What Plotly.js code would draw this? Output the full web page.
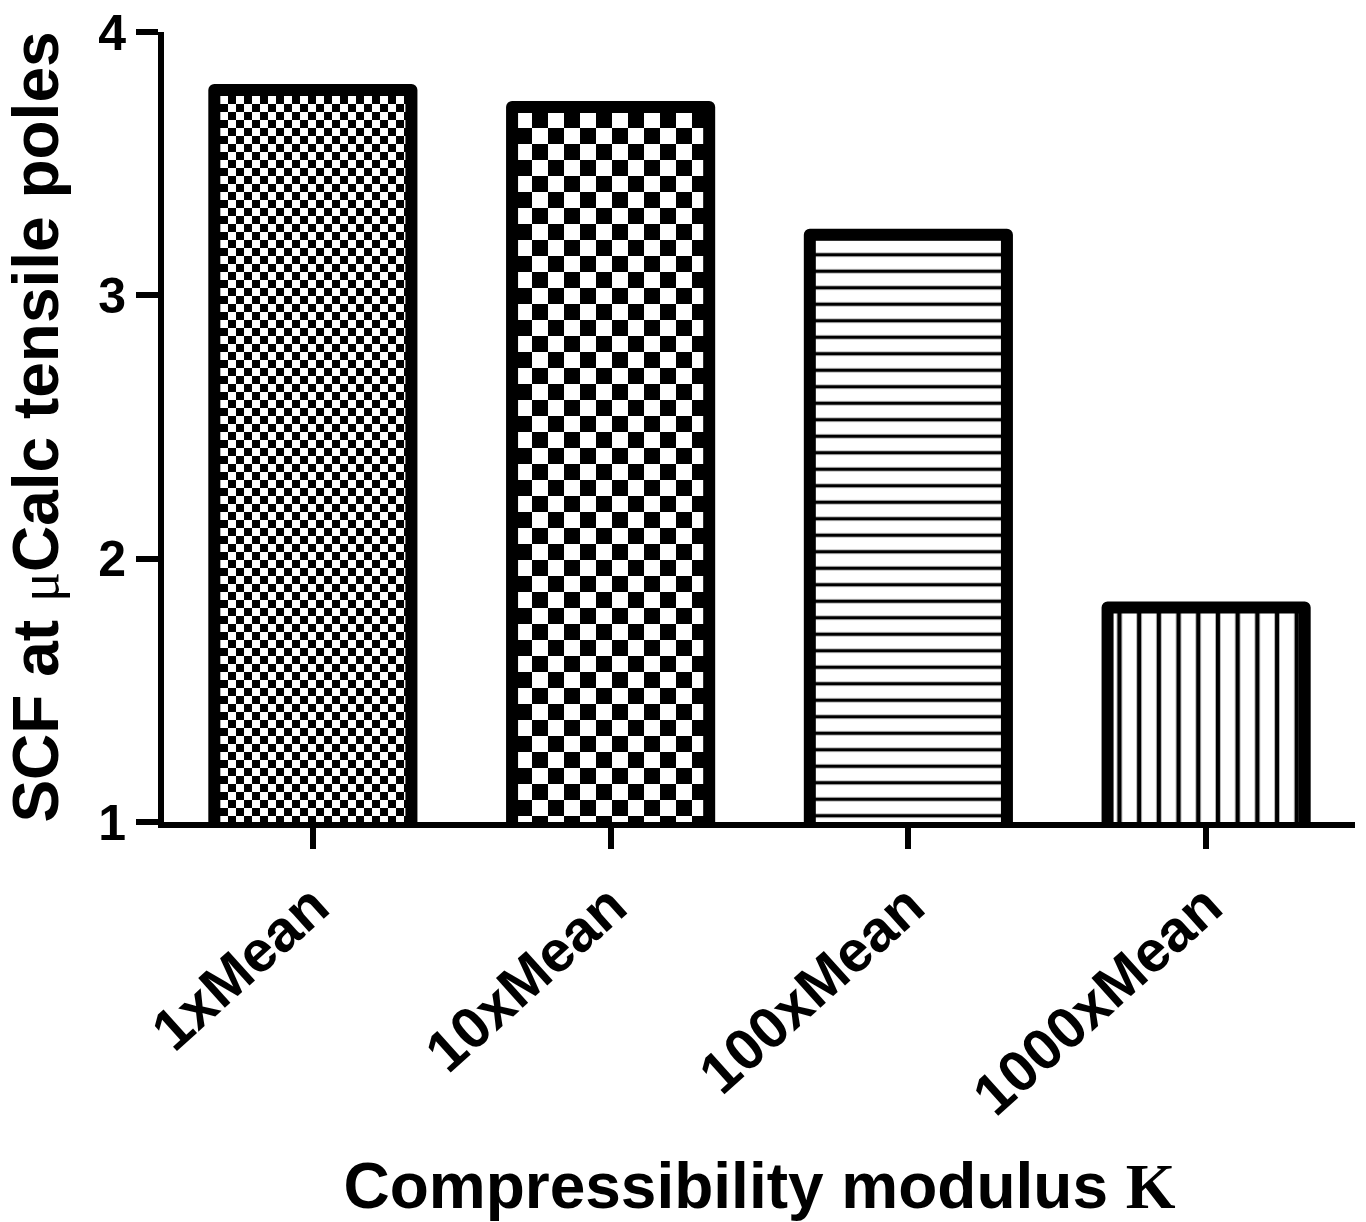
<!DOCTYPE html>
<html>
<head>
<meta charset="utf-8">
<script src="https://cdn.plot.ly/plotly-3.0.1.min.js"></script>
<style>
  html, body { margin: 0; padding: 0; background: #fff; }
  #chart { width: 1366px; height: 1222px; }
  .barlayer .point path { stroke-linejoin: round; }
</style>
</head>
<body>
<div id="chart"></div>
<script>
// ---- data ----
var categories = ['1xMean', '10xMean', '100xMean', '1000xMean'];
var scfValues = [3.78, 3.715, 3.23, 1.815];
var yTickValues = [1, 2, 3, 4];
var yTickLabels = ['1', '2', '3', '4'];

// ---- styles ----
var patternShapes = ['+', '+', '-', '|'];
var patternSizes = [16, 32, 16.5, 19.7];
var patternSolidity = [0.5, 0.5, 0.21, 0.23];
var checkerCells = [8, 16, 0, 0];   // replace fallback pattern with checkerboard

var FONT = 'Liberation Sans, Arial, sans-serif';

var trace = {
  type: 'bar',
  x: categories,
  y: scfValues,
  width: 0.662,
  marker: {
    color: 'white',
    line: { color: 'black', width: 12 },
    pattern: {
      shape: patternShapes,
      size: patternSizes,
      solidity: patternSolidity,
      fillmode: 'replace',
      bgcolor: 'white',
      fgcolor: 'black'
    }
  },
  hoverinfo: 'x+y'
};

var layout = {
  width: 1366,
  height: 1222,
  paper_bgcolor: 'white',
  plot_bgcolor: 'white',
  margin: { l: 164, r: 11, t: 32, b: 400 },
  showlegend: false,
  font: { family: FONT, color: 'black' },
  xaxis: {
    type: 'category',
    range: [-0.5, 3.5],
    showline: true,
    linewidth: 6,
    linecolor: 'black',
    ticks: 'outside',
    ticklen: 21,
    tickwidth: 6,
    tickcolor: 'black',
    tickangle: -42,
    tickfont: { family: FONT, size: 58, color: 'black', weight: 'bold' },
    showgrid: false,
    zeroline: false,
    title: {
      text: 'Compressibility modulus <span style="font-family:Liberation Serif, Times New Roman, serif">K</span>',
      font: { family: FONT, size: 64, color: 'black', weight: 'bold' },
      standoff: 40
    }
  },
  yaxis: {
    range: [1, 4],
    tickmode: 'array',
    tickvals: yTickValues,
    ticktext: yTickLabels,
    showline: true,
    linewidth: 6,
    linecolor: 'black',
    ticks: 'outside',
    ticklen: 22,
    tickwidth: 6,
    tickcolor: 'black',
    tickfont: { family: FONT, size: 50, color: 'black', weight: 'bold' },
    showgrid: false,
    zeroline: false,
    title: {
      text: 'SCF at <span style="font-family:Liberation Serif, Times New Roman, serif;font-weight:normal;font-size:56px">μ</span>Calc tensile poles',
      font: { family: FONT, size: 64, color: 'black', weight: 'bold' },
      standoff: 36
    }
  }
};

function applyCheckers(gd) {
  var paths = gd.querySelectorAll('.barlayer .trace .point path');
  paths.forEach(function (p, i) {
    var cell = checkerCells[i];
    if (!cell) return;
    var f = p.style.fill || p.getAttribute('fill') || '';
    var k = f.lastIndexOf('#');
    if (k < 0) return;
    var id = f.slice(k + 1).replace(/["')\s]/g, '');
    var pat = document.getElementById(id);
    if (!pat) return;
    var ns = 'http://www.w3.org/2000/svg';
    while (pat.firstChild) pat.removeChild(pat.firstChild);
    pat.setAttribute('width', (2 * cell) + 'px');
    pat.setAttribute('height', (2 * cell) + 'px');
    pat.setAttribute('patternUnits', 'userSpaceOnUse');
    var bg = document.createElementNS(ns, 'rect');
    bg.setAttribute('x', 0); bg.setAttribute('y', 0);
    bg.setAttribute('width', 2 * cell); bg.setAttribute('height', 2 * cell);
    bg.setAttribute('fill', 'white');
    pat.appendChild(bg);
    [[0, 0], [cell, cell]].forEach(function (o) {
      var r = document.createElementNS(ns, 'rect');
      r.setAttribute('x', o[0]); r.setAttribute('y', o[1]);
      r.setAttribute('width', cell); r.setAttribute('height', cell);
      r.setAttribute('fill', 'black');
      pat.appendChild(r);
    });
  });
}

var gd = document.getElementById('chart');
Plotly.newPlot(gd, [trace], layout, { staticPlot: true, displayModeBar: false }).then(function () {
  applyCheckers(gd);
  gd.on('plotly_afterplot', function () { applyCheckers(gd); });
});
</script>
</body>
</html>
